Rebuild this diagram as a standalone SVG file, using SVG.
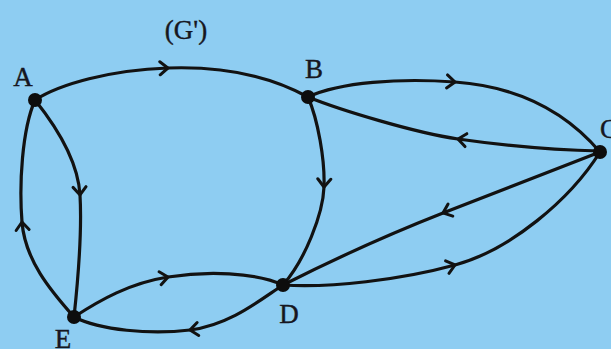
<svg xmlns="http://www.w3.org/2000/svg" width="611" height="349" viewBox="0 0 611 349">
<defs>
<style>
.edge{fill:none;stroke:#121212;stroke-width:3.2;stroke-linecap:round;marker-mid:url(#chev)}
.dot{fill:#0d0d0d}
.lbl{font-family:"Liberation Serif","Times New Roman",serif;font-size:27px;fill:#161620;stroke:#161620;stroke-width:0.4}
</style>
<marker id="chev" markerUnits="userSpaceOnUse" markerWidth="20" markerHeight="20" refX="0" refY="0" viewBox="-10 -10 20 20" orient="auto">
<path d="M-8,-6.5 L0,0 L-8,6.5" fill="none" stroke="#121212" stroke-width="3" stroke-linecap="round" stroke-linejoin="miter"/>
</marker>
</defs>
<rect width="611" height="349" fill="#8ecdf2"/>
<g id="connectors">
<path class="edge" d="M35,100 C60,84 110,70 168,68 S270,76 308,97"/>
<path class="edge" d="M308,97 C340,82 400,78 455,82 S560,105 600,152"/>
<path class="edge" d="M600,151 C550,150 500,145 458,139 S340,110 308,97"/>
<path class="edge" d="M308,97 C318,120 325,160 324,187 S305,260 283,285"/>
<path class="edge" d="M600,152 Q522,182 443,213 T283,285"/>
<path class="edge" d="M283,285 C330,288 400,280 455,265 S570,200 600,152"/>
<path class="edge" d="M35,100 C55,125 78,160 80,195 S78,280 74,317"/>
<path class="edge" d="M74,317 C50,290 25,260 22,222 S22,130 35,100"/>
<path class="edge" d="M74,317 C100,300 130,283 168,277 S255,272 283,285"/>
<path class="edge" d="M283,285 C260,300 230,325 190,330 S100,330 74,317"/>
</g>
<text class="lbl" x="186" y="39" text-anchor="middle">(G')</text>
<g id="A"><circle class="dot" cx="35" cy="100" r="7"/><text class="lbl" x="23" y="86" text-anchor="middle">A</text></g>
<g id="B"><circle class="dot" cx="308" cy="97" r="7"/><text class="lbl" x="314" y="78" text-anchor="middle">B</text></g>
<g id="C"><circle class="dot" cx="600" cy="152" r="7"/><text class="lbl" x="600" y="138">C</text></g>
<g id="D"><circle class="dot" cx="283" cy="285" r="7"/><text class="lbl" x="289" y="323" text-anchor="middle">D</text></g>
<g id="E"><circle class="dot" cx="74" cy="317" r="7"/><text class="lbl" x="63" y="348" text-anchor="middle">E</text></g>
</svg>
